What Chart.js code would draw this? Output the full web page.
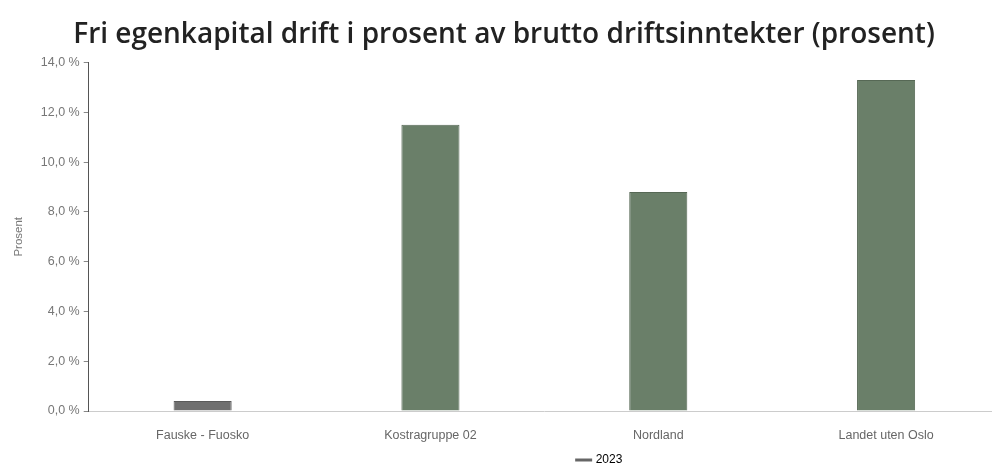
<!DOCTYPE html>
<html><head><meta charset="utf-8">
<script src="https://cdn.jsdelivr.net/npm/chart.js@4/dist/chart.umd.min.js"></script>
<style>html,body{margin:0;padding:0;background:#fff;overflow:hidden;width:992px;height:466px;}#wrap{width:1000px;height:476px;}</style>
</head><body><div id="wrap"><canvas id="c" width="1000" height="476"></canvas></div>
<script>
const categories = ["Fauske - Fuosko", "Kostragruppe 02", "Nordland", "Landet uten Oslo"];
const values2023 = [0.4, 11.5, 8.8, 13.3];
const seriesLabel = "2023";
const yTicksMax = 14;
const titleText = "Fri egenkapital drift i prosent av brutto driftsinntekter (prosent)";

const fills = ["#6f6f6f", "#6a7f69", "#6a7f69", "#6a7f69"];
const borders = ["#5a5a5a", "#566855", "#566855", "#566855"];

const legendShift = {
  id: 'legendShift',
  beforeDraw(chart) {
    const lg = chart.legend;
    if (lg && !lg._shifted) { lg.left += 96; lg.right += 96; lg._shifted = true; }
  }
};

new Chart(document.getElementById('c'), {
  type: 'bar',
  data: {
    labels: categories,
    datasets: [{
      label: seriesLabel,
      data: values2023,
      backgroundColor: fills,
      borderColor: borders,
      borderWidth: 1,
      barPercentage: 0.255,
      categoryPercentage: 1
    }]
  },
  plugins: [legendShift],
  options: {
    responsive: false,
    animation: false,
    layout: { padding: { left: 8, right: 0, top: 0, bottom: 0 } },
    plugins: {
      title: {
        display: true, text: titleText,
        color: '#222',
        font: { family: "'Open Sans'", size: 28, weight: '600' },
        padding: { top: 18, bottom: 11 }
      },
      legend: {
        position: 'bottom',
        labels: {
          usePointStyle: true, pointStyle: 'line',
          color: '#666', font: { family: "'Liberation Sans'", size: 12 },
          boxWidth: 14, padding: 2,
          generateLabels: (chart) => [{ text: seriesLabel, fillStyle: '#666', strokeStyle: '#666', lineWidth: 3, pointStyle: 'line', datasetIndex: 0 }]
        }
      },
      tooltip: { enabled: false }
    },
    scales: {
      x: {
        grid: { display: false },
        border: { color: '#ccc' },
        ticks: { color: '#666', font: { family: "'Liberation Sans'", size: 12.5 }, padding: 9 }
      },
      y: {
        min: 0, max: yTicksMax,
        title: { display: true, text: 'Prosent', color: '#777', font: { family: "'Liberation Sans'", size: 11.5 }, padding: { top: 4, bottom: 11 } },
        grid: { display: true, drawOnChartArea: false, tickLength: 5, color: '#888' },
        border: { color: '#555' },
        ticks: {
          stepSize: 2, color: '#777', font: { family: "'Liberation Sans'", size: 12.5 }, padding: 4,
          callback: v => v.toFixed(1).replace('.', ',') + ' %'
        }
      }
    }
  }
});
</script></body></html>
